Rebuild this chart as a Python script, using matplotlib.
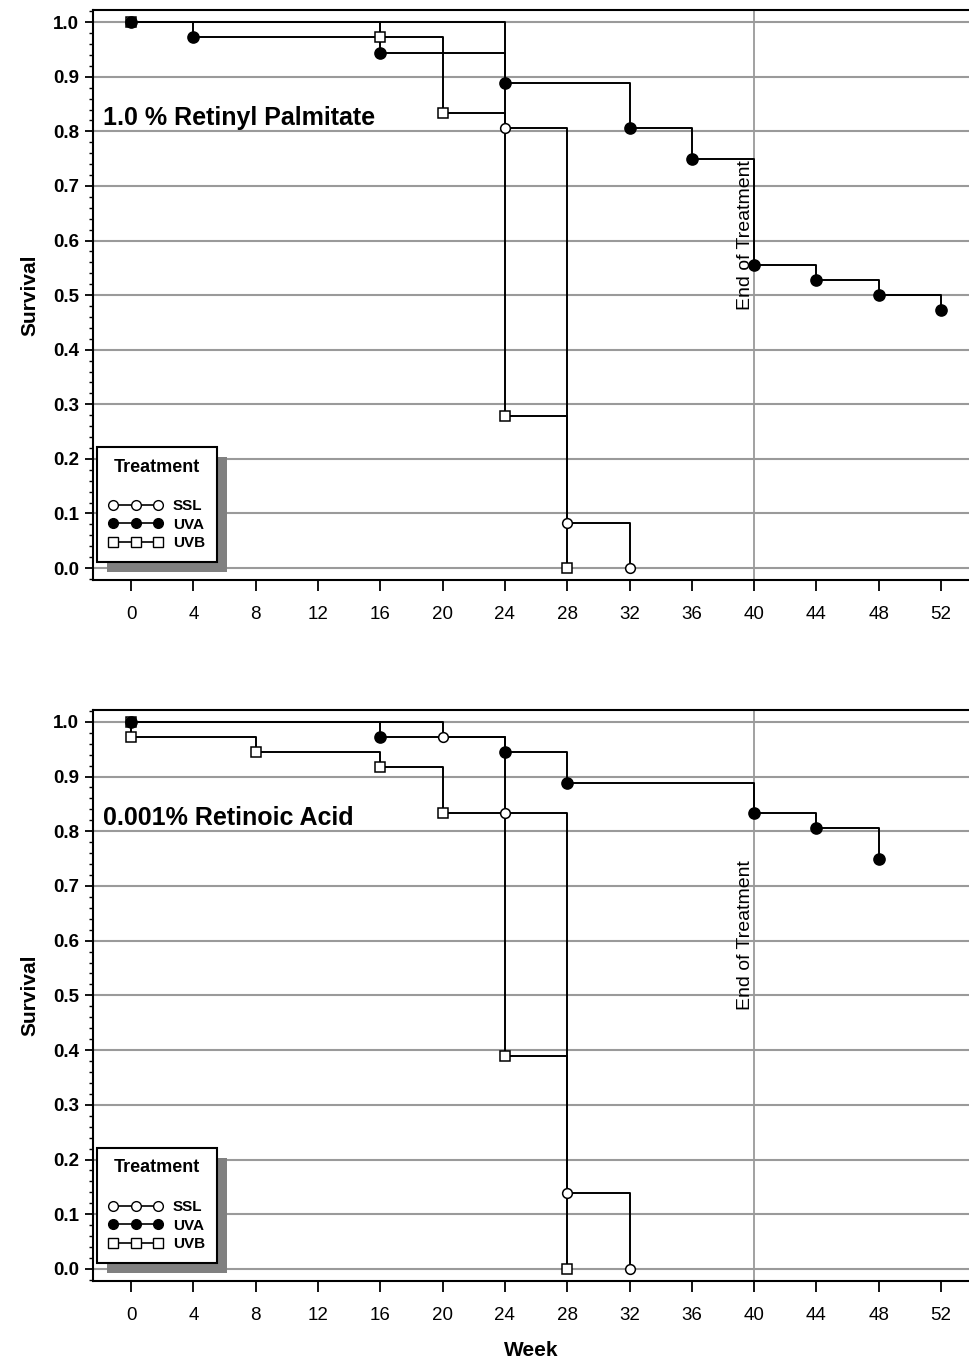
"""Kaplan-Meier style survival curves for two retinoid treatments."""
import matplotlib
matplotlib.use("Agg")
import matplotlib.pyplot as plt
from matplotlib.lines import Line2D
from matplotlib.patches import Rectangle
from matplotlib.ticker import MultipleLocator

plt.rcParams["font.family"] = ["Liberation Sans", "DejaVu Sans"]

# 1.0 % Retinyl Palmitate
rp_ssl_weeks = [0, 24, 28, 32]
rp_ssl_surv = [1.0, 0.806, 0.083, 0.0]
rp_uva_weeks = [0, 4, 16, 24, 32, 36, 40, 44, 48, 52]
rp_uva_surv = [1.0, 0.972, 0.944, 0.889, 0.806, 0.75, 0.556, 0.528, 0.5, 0.472]
rp_uvb_weeks = [0, 16, 20, 24, 28]
rp_uvb_surv = [1.0, 0.972, 0.833, 0.278, 0.0]

# 0.001% Retinoic Acid
ra_ssl_weeks = [0, 20, 24, 28, 32]
ra_ssl_surv = [1.0, 0.972, 0.833, 0.139, 0.0]
ra_uva_weeks = [0, 16, 24, 28, 40, 44, 48]
ra_uva_surv = [1.0, 0.972, 0.944, 0.889, 0.833, 0.806, 0.75]
ra_uvb_weeks = [0, 0, 8, 16, 20, 24, 28]
ra_uvb_surv = [1.0, 0.972, 0.944, 0.917, 0.833, 0.389, 0.0]

treatments = ["SSL", "UVA", "UVB"]
draw_order = ["SSL", "UVB", "UVA"]
week_ticks = list(range(0, 53, 4))
end_of_treatment = 40

STYLE = {
    "SSL": dict(marker="o", markersize=7, markerfacecolor="white"),
    "UVA": dict(marker="o", markersize=8, markerfacecolor="black"),
    "UVB": dict(marker="s", markersize=7, markerfacecolor="white"),
}


def draw_panel(ax, curves, title, show_xlabel=False):
    """Draws one panel of step curves with grid, annotation and legend."""
    for yv in [i / 10 for i in range(11)]:
        ax.axhline(yv, color="#9a9a9a", lw=1.5, zorder=1)
    ax.axvline(end_of_treatment, color="#9a9a9a", lw=1.3, zorder=1)
    ax.text(end_of_treatment, 0.61, "End of Treatment", rotation=90,
            ha="right", va="center", fontsize=14)

    for name in draw_order:
        weeks, surv = curves[name]
        ax.step(weeks, surv, where="post", color="black", lw=1.4, zorder=3)
        ax.plot(weeks, surv, ls="none", markeredgecolor="black",
                markeredgewidth=1.1, zorder=4, **STYLE[name])

    ax.text(-1.8, 0.824, title, fontsize=18, fontweight="bold",
            ha="left", va="center")

    ax.set_xlim(-2.45, 53.8)
    ax.set_ylim(-0.022, 1.022)
    ax.set_xticks(week_ticks)
    ax.yaxis.set_major_locator(MultipleLocator(0.1))
    ax.yaxis.set_minor_locator(MultipleLocator(0.02))
    ax.yaxis.set_major_formatter(plt.FormatStrFormatter("%.1f"))
    ax.tick_params(axis="x", length=8, width=1.3, pad=11, labelsize=13.5)
    ax.tick_params(axis="y", which="major", length=6, width=1.3, pad=4,
                   labelsize=13.5)
    ax.tick_params(axis="y", which="minor", length=3, width=1.0)
    for lab in ax.get_yticklabels():
        lab.set_fontweight("bold")
    for side in ["left", "bottom", "top"]:
        ax.spines[side].set_linewidth(1.5)
    ax.spines["right"].set_visible(False)

    ax.set_ylabel("Survival", fontsize=15, fontweight="bold", labelpad=10)
    if show_xlabel:
        ax.set_xlabel("Week", fontsize=15, fontweight="bold", labelpad=12)

    handles = [Line2D([], [], color="black", lw=1.2, markeredgecolor="black",
                      markeredgewidth=1.0,
                      **dict(STYLE[name], markersize=7))
               for name in treatments]
    leg = ax.legend(handles, treatments, title="Treatment", numpoints=3,
                    loc="lower left", bbox_to_anchor=(0.005, 0.032),
                    borderaxespad=0, fancybox=False, framealpha=1,
                    edgecolor="black", handlelength=3.5, handletextpad=0.7,
                    labelspacing=0.3, borderpad=0.75,
                    prop=dict(size=11, weight="bold"),
                    title_fontproperties=dict(size=13, weight="bold"))
    leg.get_frame().set_linewidth(1.5)
    leg._legend_box.sep = 17
    return leg


def add_shadow(fig, ax, leg, offset=10):
    """Adds a solid gray drop shadow behind the legend frame."""
    fig.canvas.draw()
    bb = leg.get_window_extent()
    inv = ax.transAxes.inverted()
    (x0, y0), (x1, y1) = inv.transform([[bb.x0 + offset, bb.y0 - offset],
                                         [bb.x1 + offset, bb.y1 - offset]])
    ax.add_patch(Rectangle((x0, y0), x1 - x0, y1 - y0, transform=ax.transAxes,
                           facecolor="#808080", edgecolor="none",
                           zorder=4.5, clip_on=False))


fig = plt.figure(figsize=(9.69, 13.6), dpi=100)
ax_top = fig.add_axes([0.096, 0.5735, 0.904, 0.419])
ax_bot = fig.add_axes([0.096, 0.0581, 0.904, 0.42])

leg_top = draw_panel(ax_top, {"SSL": (rp_ssl_weeks, rp_ssl_surv),
                              "UVA": (rp_uva_weeks, rp_uva_surv),
                              "UVB": (rp_uvb_weeks, rp_uvb_surv)},
                     "1.0 % Retinyl Palmitate")
leg_bot = draw_panel(ax_bot, {"SSL": (ra_ssl_weeks, ra_ssl_surv),
                              "UVA": (ra_uva_weeks, ra_uva_surv),
                              "UVB": (ra_uvb_weeks, ra_uvb_surv)},
                     "0.001% Retinoic Acid", show_xlabel=True)
add_shadow(fig, ax_top, leg_top)
add_shadow(fig, ax_bot, leg_bot)

fig.savefig("out.png", dpi=100)
